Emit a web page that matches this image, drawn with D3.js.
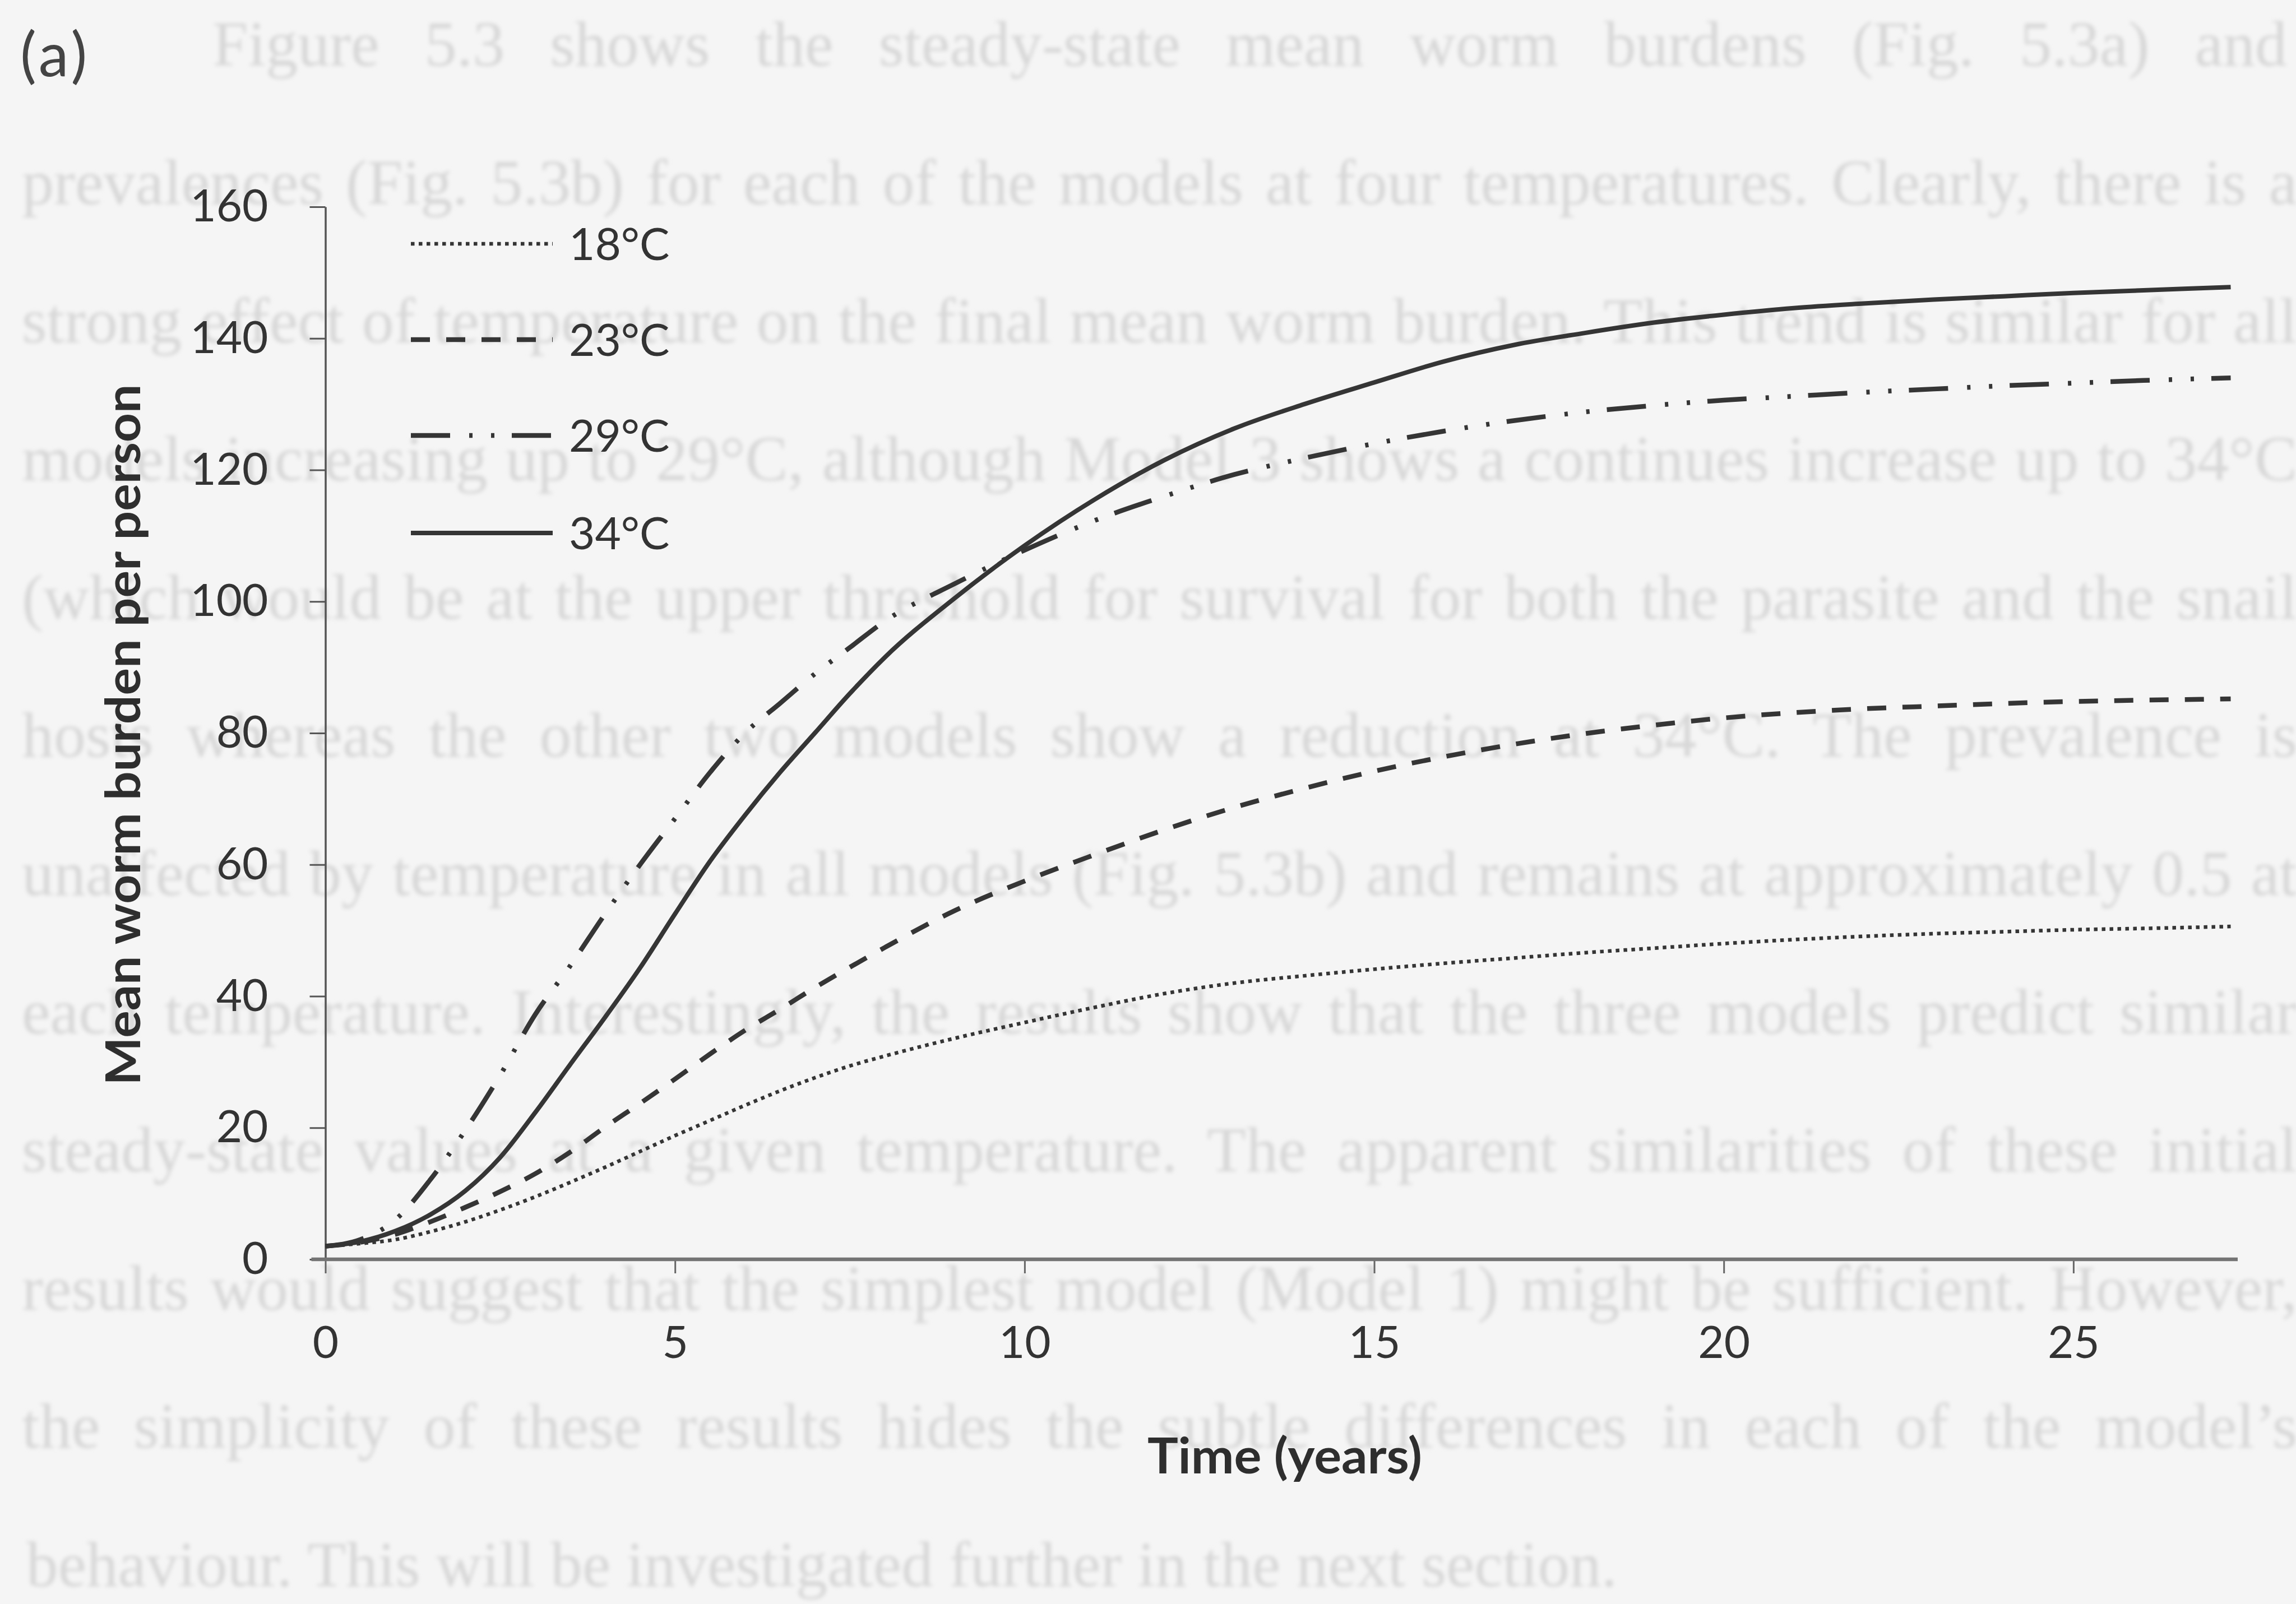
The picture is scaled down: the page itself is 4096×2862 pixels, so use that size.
<!DOCTYPE html>
<html><head><meta charset="utf-8">
<script src="https://cdn.jsdelivr.net/npm/d3@7"></script>
<style>html,body{margin:0;padding:0;background:#f5f5f5;overflow:hidden}</style>
</head><body>
<svg id="c" width="4096" height="2862"></svg>
<script>
// ---- data ----
const time = [0,0.5,1,1.5,2,2.5,3,3.5,4,4.5,5,5.5,6,6.5,7,7.5,8,9,10,11,12,13,14,15,16,17,18,19,20,21,22,23,24,25,26,27.25];
const burden18 = [2.0,2.4,3.0,4.2,5.7,7.5,9.5,11.7,14.0,16.4,18.8,21.1,23.4,25.6,27.6,29.4,30.9,33.6,36.0,38.3,40.4,42.0,43.1,44.1,45.0,45.8,46.6,47.3,48.0,48.6,49.1,49.5,49.8,50.1,50.3,50.6];
const burden23 = [2.0,2.6,3.8,5.7,7.9,10.3,13.0,16.3,20.1,23.7,27.4,31.2,34.8,38.0,41.3,44.4,47.4,53.0,57.5,61.5,65.3,68.7,71.6,74.2,76.4,78.3,79.9,81.2,82.3,83.1,83.7,84.1,84.5,84.8,85.0,85.2];
const burden29 = [2.0,3.0,6.0,12.1,19.6,28.0,37.2,44.6,52.5,60.0,67.0,74.0,80.0,84.5,89.0,93.0,97.0,102.7,107.8,112.3,116.0,119.3,121.8,124.0,125.9,127.5,128.8,129.8,130.6,131.2,131.8,132.3,132.8,133.2,133.6,134.0];
const burden34 = [2.0,2.7,4.3,6.8,10.4,15.5,22.3,29.6,36.8,44.3,52.5,60.5,67.5,74.0,80.0,86.0,91.5,100.5,108.5,115.5,121.5,126.3,130.0,133.3,136.5,139.0,140.8,142.4,143.6,144.6,145.3,145.9,146.4,146.9,147.3,147.8];
const seriesNames = ['18°C','23°C','29°C','34°C'];
const xTicks = [0,5,10,15,20,25];
const yTicks = [0,20,40,60,80,100,120,140,160];
const xTitle = 'Time (years)';
const yTitle = 'Mean worm burden per person';
const panelLabel = '(a)';
const pageLines = [
 'Figure 5.3 shows the steady-state mean worm burdens (Fig. 5.3a) and',
 'prevalences (Fig. 5.3b) for each of the models at four temperatures. Clearly, there is a',
 'strong effect of temperature on the final mean worm burden. This trend is similar for all',
 'models increasing up to 29°C, although Model 3 shows a continues increase up to 34°C',
 '(which would be at the upper threshold for survival for both the parasite and the snail',
 'hosts whereas the other two models show a reduction at 34°C. The prevalence is',
 'unaffected by temperature in all models (Fig. 5.3b) and remains at approximately 0.5 at',
 'each temperature. Interestingly, the results show that the three models predict similar',
 'steady-state values at a given temperature. The apparent similarities of these initial',
 'results would suggest that the simplest model (Model 1) might be sufficient. However,',
 'the simplicity of these results hides the subtle differences in each of the model\u2019s',
 'behaviour. This will be investigated further in the next section.'
];

// ---- styles ----
const styles = [
  {dash:'6.5 7.5', width:6.5},
  {dash:'34 29', width:8.5},
  {dash:'70 34 6 33 6 31', width:8.5},
  {dash:null, width:8}
];
const ink = '#353535';
const values = [burden18, burden23, burden29, burden34];

const svg = d3.select('#c');
svg.append('rect').attr('width',4096).attr('height',2862).attr('fill','#f5f5f5');
const defs = svg.append('defs');
defs.append('filter').attr('id','blur').append('feGaussianBlur').attr('stdDeviation',3.5);

// ---- faint page text behind the chart ----
const F = 114;
const page = svg.append('g').attr('filter','url(#blur)')
  .attr('font-family','Liberation Serif, serif').attr('fill','#d7d7d7');
pageLines.forEach((s,i)=>{
  const last = i===pageLines.length-1;
  const x0 = i===0 ? 379 : (last ? 47 : 39);
  const x1 = i===0 ? 4080 : (last ? 2885 : 4098);
  const t = page.append('text').attr('x',x0).attr('y',90+i*246.6+0.24*F)
     .attr('font-size',F).text(s);
  const nat = t.node().getComputedTextLength();
  const target = x1-x0;
  const spaces = (s.match(/ /g)||[]).length;
  if (!last && nat < target) t.attr('word-spacing', (target-nat)/spaces);
  else t.attr('textLength',target).attr('lengthAdjust','spacingAndGlyphs');
});

// ---- scales ----
const x = d3.scaleLinear().domain([0,27.35]).range([580.5,3992]);
const y = d3.scaleLinear().domain([0,160]).range([2247,369]);

// ---- axes ----
const gy = svg.append('g').attr('transform',`translate(${x(0)},0)`)
  .attr('color','#555')
  .call(d3.axisLeft(y).tickValues(yTicks).tickSize(28).tickPadding(74).tickSizeOuter(0).tickFormat(d3.format('d')));
gy.attr('font-family','Lato, sans-serif').attr('font-size',80);
gy.select('.domain').attr('stroke-width',3.5);
gy.selectAll('.tick line').attr('stroke-width',3);
gy.selectAll('.tick text').attr('fill','#333');

const gx = svg.append('g').attr('transform',`translate(0,${y(0)})`)
  .attr('color','#666')
  .call(d3.axisBottom(x).tickValues(xTicks).tickSize(25).tickPadding(94).tickSizeOuter(0));
gx.attr('font-family','Lato, sans-serif').attr('font-size',80);
gx.select('.domain').remove();
gx.selectAll('.tick line').attr('stroke-width',3);
gx.selectAll('.tick text').attr('fill','#333');
svg.append('line').attr('x1',x(0)-25).attr('x2',x.range()[1])
  .attr('y1',y(0)).attr('y2',y(0)).attr('stroke','#747474').attr('stroke-width',6.5);

// ---- lines ----
const line = d3.line().x((d,i)=>x(time[i])).y(d=>y(d)).curve(d3.curveMonotoneX);
values.forEach((v,k)=>{
  svg.append('path').datum(v).attr('d',line).attr('fill','none')
    .attr('stroke',ink).attr('stroke-width',styles[k].width)
    .attr('stroke-dasharray',styles[k].dash);
});

// ---- legend ----
const legY = [435,606,777,951];
const lg = svg.append('g').attr('font-family','Lato, sans-serif').attr('font-size',80).attr('fill','#333');
seriesNames.forEach((n,k)=>{
  lg.append('line').attr('x1',733).attr('x2',986).attr('y1',legY[k]).attr('y2',legY[k])
    .attr('stroke',ink).attr('stroke-width',styles[k].width).attr('stroke-dasharray',styles[k].dash);
  lg.append('text').attr('x',1015).attr('y',legY[k]).attr('dy','0.36em').text(n);
});

// ---- titles ----
svg.append('text').attr('x',2292).attr('y',2629).attr('text-anchor','middle')
  .attr('font-family','Lato, sans-serif').attr('font-weight','bold').attr('font-size',88)
  .attr('textLength',490).attr('lengthAdjust','spacingAndGlyphs')
  .attr('fill','#2e2e2e').text(xTitle);
svg.append('text').attr('transform','translate(250,1311) rotate(-90)').attr('text-anchor','middle')
  .attr('font-family','Lato, sans-serif').attr('font-weight','bold').attr('font-size',87)
  .attr('textLength',1251).attr('lengthAdjust','spacingAndGlyphs')
  .attr('fill','#2e2e2e').text(yTitle);
svg.append('text').attr('x',36).attr('y',136).attr('font-family','Lato, sans-serif')
  .attr('font-size',108).attr('letter-spacing',6).attr('fill','#444').text(panelLabel);
</script>
</body></html>
